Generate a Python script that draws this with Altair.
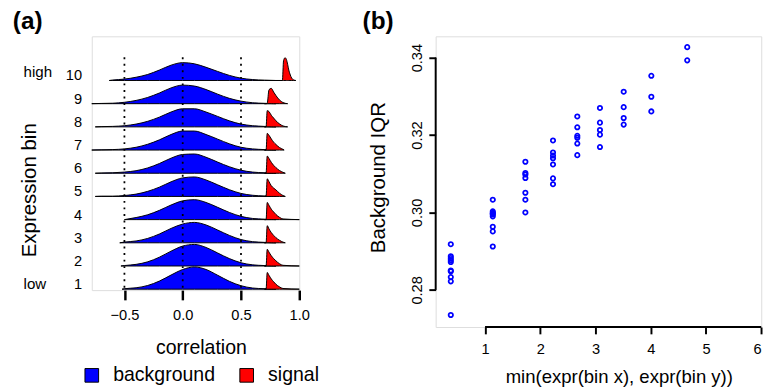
import altair as alt
import pandas as pd

FONT = "Liberation Sans"

# ---------------- Panel (a): ridgeline densities ----------------
bins = list(range(1, 11))
end_labels = {"low": 1, "high": 10}
corr_ticks = [-0.5, 0.0, 0.5, 1.0]
dotted_x = [-0.5, 0.0, 0.5]

# background density heights (in row-height units) at these correlations
bg_grid = [-0.7, -0.6, -0.5, -0.4, -0.3, -0.2, -0.1, 0.0, 0.1, 0.2, 0.3, 0.4, 0.5, 0.6, 0.7, 0.8]
bg_start = [-0.52, -0.53, -0.54, -0.50, -0.75, -0.75, -0.78, -0.75, -0.78, -0.63]  # bins 1..10
bg_dens = {
    10: [None, 0.02, 0.06, 0.14, 0.26, 0.45, 0.66, 0.77, 0.72, 0.57, 0.39, 0.22, 0.10, 0.04, 0.015, 0.0],
    9: [0.01, 0.02, 0.06, 0.14, 0.27, 0.46, 0.68, 0.80, 0.76, 0.61, 0.41, 0.23, 0.11, 0.04, 0.015, 0.0],
    8: [0.01, 0.02, 0.05, 0.12, 0.24, 0.42, 0.64, 0.78, 0.78, 0.64, 0.45, 0.26, 0.12, 0.05, 0.02, 0.0],
    7: [0.01, 0.02, 0.05, 0.12, 0.25, 0.44, 0.67, 0.82, 0.82, 0.67, 0.47, 0.27, 0.12, 0.05, 0.02, 0.0],
    6: [0.01, 0.02, 0.05, 0.11, 0.23, 0.42, 0.65, 0.81, 0.83, 0.69, 0.48, 0.28, 0.13, 0.05, 0.02, 0.0],
    5: [0.01, 0.01, 0.04, 0.10, 0.22, 0.40, 0.63, 0.80, 0.84, 0.71, 0.50, 0.29, 0.13, 0.05, 0.02, 0.0],
    4: [None, None, None, 0.09, 0.21, 0.40, 0.63, 0.81, 0.86, 0.74, 0.53, 0.31, 0.14, 0.05, 0.02, 0.0],
    3: [None, None, 0.03, 0.08, 0.19, 0.38, 0.62, 0.81, 0.88, 0.77, 0.55, 0.32, 0.14, 0.05, 0.02, 0.0],
    2: [None, None, 0.02, 0.07, 0.18, 0.38, 0.64, 0.86, 0.93, 0.80, 0.56, 0.32, 0.14, 0.05, 0.02, 0.0],
    1: [None, None, 0.02, 0.06, 0.16, 0.35, 0.61, 0.85, 0.96, 0.85, 0.60, 0.34, 0.15, 0.05, 0.02, 0.0],
}

# signal density heights
sig_grid = [0.70, 0.715, 0.725, 0.74, 0.76, 0.78, 0.80, 0.83, 0.86]
sig_dens = {
    9: [0, 0, 0.02, 0.60, 0.66, 0.50, 0.35, 0.16, 0.05],
    8: [0, 0, 0.70, 0.66, 0.50, 0.38, 0.26, 0.13, 0.04],
    7: [0, 0, 0.72, 0.64, 0.48, 0.34, 0.24, 0.11, 0.03],
    6: [0, 0, 0.74, 0.64, 0.47, 0.34, 0.24, 0.12, 0.04],
    5: [0, 0.02, 0.76, 0.64, 0.46, 0.36, 0.28, 0.14, 0.04],
    4: [0, 0, 0.74, 0.62, 0.45, 0.33, 0.22, 0.10, 0.03],
    3: [0, 0, 0.74, 0.60, 0.44, 0.32, 0.22, 0.11, 0.03],
    2: [0, 0, 0.72, 0.60, 0.44, 0.32, 0.22, 0.10, 0.03],
    1: [0, 0, 0.72, 0.60, 0.44, 0.32, 0.21, 0.10, 0.03],
}
sig_grid_high = [0.80, 0.855, 0.865, 0.878, 0.89, 0.90, 0.91, 0.92, 0.935, 0.95]
sig_dens_high = [0, 0, 0.85, 0.98, 0.90, 0.70, 0.45, 0.28, 0.10, 0.03]
row_end = [1.0, 1.0, 0.88, 1.0, 0.88, 0.88, 0.87, 0.90, 0.90, 0.97]  # bins 1..10

recs = []
for i, b in enumerate(bins):
    base = b - 1
    pts = [(bg_start[i], 0.0)] + [
        (g, h) for g, h in zip(bg_grid, bg_dens[b]) if h is not None and g > bg_start[i]
    ]
    for x, h in pts:
        recs.append(dict(x=x, top=base + h, base=base, type="background", key=f"bg{b}"))
    if b == 10:
        sx, sh = sig_grid_high, sig_dens_high
    else:
        sx, sh = sig_grid, sig_dens[b]
    pts = list(zip(sx, sh)) + [(row_end[i], 0.0)]
    for x, h in pts:
        recs.append(dict(x=x, top=base + h, base=base, type="signal", key=f"sig{b}"))
dens_df = pd.DataFrame(recs)

xa_scale = alt.Scale(domain=[-0.78, 1.0], nice=False, zero=False)
ya_scale = alt.Scale(domain=[-0.04, 10.904], nice=False, zero=False)

areas = alt.Chart(dens_df).mark_area(
    stroke="black", strokeWidth=1, interpolate="monotone"
).encode(
    x=alt.X("x:Q", scale=xa_scale,
            axis=alt.Axis(values=corr_ticks, format=".1f", domain=False, grid=False,
                          tickSize=10, tickWidth=2.5, tickColor="black", labelFlush=False,
                          labelFontSize=15, labelPadding=8, labelColor="black",
                          title="correlation", titleFontSize=20, titleFontWeight="normal",
                          titleX=112, titleY=65, titleBaseline="alphabetic", titleColor="black")),
    y=alt.Y("top:Q", stack=None, scale=ya_scale,
            axis=alt.Axis(labels=False, domain=False, ticks=False, grid=False,
                          title="Expression bin", titleFontSize=21, titleFontWeight="normal",
                          titleX=-64, titleY=157.5, titleBaseline="middle", titleAngle=-90,
                          titleColor="black")),
    y2="base:Q",
    color=alt.Color("type:N",
                    scale=alt.Scale(domain=["background", "signal"], range=["#0000FF", "#FF0000"]),
                    legend=alt.Legend(title=None, orient="none", direction="horizontal",
                                      legendX=-10, legendY=338, symbolType="square",
                                      symbolSize=196, symbolStrokeColor="black",
                                      symbolStrokeWidth=1, labelFontSize=20, labelOffset=12,
                                      columnPadding=22, labelColor="black")),
    detail="key:N",
)

rules_df = pd.DataFrame({"x": dotted_x})
dotted = alt.Chart(rules_df).mark_rule(
    color="black", strokeWidth=1.8, strokeDash=[2, 4.7]
).encode(x=alt.X("x:Q", scale=xa_scale), y=alt.datum(10.0), y2=alt.datum(0.0))

bin_df = pd.DataFrame({"lab": [str(b) for b in bins], "yv": [b - 1 for b in bins]})
bin_text = alt.Chart(bin_df).mark_text(
    align="right", baseline="alphabetic", fontSize=15, color="black"
).encode(x=alt.value(-10), y=alt.Y("yv:Q", scale=ya_scale), text="lab:N")

high_df = pd.DataFrame({"lab": ["high"], "yv": [end_labels["high"] - 1]})
low_df = pd.DataFrame({"lab": ["low"], "yv": [end_labels["low"] - 1]})
high_text = alt.Chart(high_df).mark_text(
    align="left", baseline="alphabetic", fontSize=15.5, color="black", dy=-4
).encode(x=alt.value(-70), y=alt.Y("yv:Q", scale=ya_scale), text="lab:N")
low_text = alt.Chart(low_df).mark_text(
    align="left", baseline="alphabetic", fontSize=15.5, color="black"
).encode(x=alt.value(-70), y=alt.Y("yv:Q", scale=ya_scale), text="lab:N")

tag_a = alt.Chart(pd.DataFrame({"t": ["(a)"]})).mark_text(
    align="left", baseline="alphabetic", fontSize=25, fontWeight="bold", color="black"
).encode(x=alt.value(-81), y=alt.value(-7.5), text="t:N")

panel_a = alt.layer(areas, dotted, bin_text, high_text, low_text, tag_a).properties(
    width=213, height=260.5)

# ---------------- Panel (b): scatter ----------------
col_x = [0.38, 1.14, 1.73, 2.23, 2.67, 3.08, 3.51, 4.01, 4.66]
col_y = [
    [0.2918, 0.2887, 0.2882, 0.2877, 0.2872, 0.2850, 0.2848, 0.2833, 0.2822, 0.2735],
    [0.3033, 0.3003, 0.2999, 0.2997, 0.2995, 0.2990, 0.2963, 0.2951, 0.2912],
    [0.3131, 0.3102, 0.3098, 0.3089, 0.3051, 0.3033, 0.3000],
    [0.3186, 0.3155, 0.3147, 0.3140, 0.3124, 0.3088, 0.3073],
    [0.3248, 0.3220, 0.3198, 0.3193, 0.3178, 0.3148],
    [0.3270, 0.3232, 0.3213, 0.3201, 0.3169],
    [0.3312, 0.3272, 0.3244, 0.3227],
    [0.3353, 0.3299, 0.3261],
    [0.3427, 0.3393],
]
xb_ticks = [1, 2, 3, 4, 5, 6]
yb_ticks = [0.28, 0.30, 0.32, 0.34]

pts_df = pd.DataFrame([{"xv": x, "yv": y} for x, ys in zip(col_x, col_y) for y in ys])

xb_scale = alt.Scale(domain=[0.106, 6.0], nice=False, zero=False)
yb_scale = alt.Scale(domain=[0.2704, 0.3455], nice=False, zero=False)

points = alt.Chart(pts_df).mark_point(
    shape="circle", filled=False, color="#0000FF", size=20, strokeWidth=1.8, opacity=1
).encode(
    x=alt.X("xv:Q", scale=xb_scale,
            axis=alt.Axis(values=xb_ticks, format="d", domain=False, grid=False,
                          tickSize=7, tickWidth=2, tickColor="black", labelFontSize=15,
                          labelPadding=8, labelFlush=True, labelColor="black",
                          title="min(expr(bin x), expr(bin y))", titleFontSize=19,
                          titleFontWeight="normal", titleX=188, titleY=57,
                          titleBaseline="alphabetic", titleColor="black")),
    y=alt.Y("yv:Q", scale=yb_scale,
            axis=alt.Axis(values=yb_ticks, format=".2f", domain=False, grid=False,
                          tickSize=7, tickWidth=2, tickColor="black", labelFontSize=15,
                          labelAngle=-90, labelAlign="center", labelBaseline="alphabetic",
                          labelPadding=8, labelColor="black",
                          title="Background IQR", titleFontSize=21, titleFontWeight="normal",
                          titleX=-59, titleY=144.5, titleBaseline="middle", titleAngle=-90,
                          titleColor="black")),
)

yline = alt.Chart(pd.DataFrame({"a": [min(yb_ticks)], "b": [max(yb_ticks)]})).mark_rule(
    color="black", strokeWidth=2
).encode(x=alt.value(0), y=alt.Y("a:Q", scale=yb_scale), y2="b:Q")

xline = alt.Chart(pd.DataFrame({"a": [min(xb_ticks)], "b": [max(xb_ticks)]})).mark_rule(
    color="black", strokeWidth=2
).encode(y=alt.value(298.4), x=alt.X("a:Q", scale=xb_scale), x2="b:Q")

tag_b = alt.Chart(pd.DataFrame({"t": ["(b)"]})).mark_text(
    align="left", baseline="alphabetic", fontSize=25, fontWeight="bold", color="black"
).encode(x=alt.value(-75), y=alt.value(-7.5), text="t:N")

panel_b = alt.layer(points, yline, xline, tag_b).properties(width=334.2, height=298.4)

chart = alt.hconcat(panel_a, panel_b, spacing=42).resolve_scale(
    color="independent"
).resolve_legend(color="independent").properties(
    padding={"left": 4, "top": -4, "right": 0, "bottom": 0}
).configure_view(stroke=None).configure(
    font=FONT
).configure_text(font=FONT)

chart.save("out.html", embed_options={"renderer": "svg", "actions": False})
